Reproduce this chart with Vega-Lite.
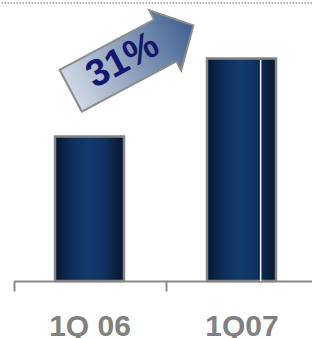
{
  "$schema": "https://vega.github.io/schema/vega-lite/v6.json",
  "width": 312,
  "height": 278,
  "autosize": {"type": "none"},
  "padding": {"left": 0, "right": 0, "top": 3, "bottom": 57},
  "config": {"view": {"stroke": null}},
  "layer": [
    {
      "data": {"values": [{"quarter": "1Q 06", "value": 52}, {"quarter": "1Q07", "value": 80}]},
      "mark": {
        "type": "bar",
        "width": {"band": 0.454},
        "stroke": "#858585",
        "strokeWidth": 2.5,
        "fill": {
          "gradient": "linear", "x1": 0, "y1": 0, "x2": 1, "y2": 0,
          "stops": [
            {"offset": 0, "color": "#05142b"},
            {"offset": 0.12, "color": "#0b2447"},
            {"offset": 0.3, "color": "#0f3260"},
            {"offset": 0.5, "color": "#123a6c"},
            {"offset": 0.7, "color": "#0f3262"},
            {"offset": 0.88, "color": "#0a2140"},
            {"offset": 1, "color": "#06152c"}
          ]
        }
      },
      "encoding": {
        "x": {
          "field": "quarter", "type": "nominal", "sort": null,
          "scale": {"range": [13.5, 317.5], "paddingInner": 0, "paddingOuter": 0},
          "axis": {
            "title": null, "domainColor": "#8a8a8a", "domainWidth": 2,
            "tickColor": "#8a8a8a", "tickWidth": 2, "tickSize": 10, "tickBand": "extent",
            "labelAngle": 0, "labelFont": "Liberation Sans", "labelFontWeight": "bold",
            "labelFontSize": 30, "labelColor": "#808080", "labelBaseline": "alphabetic",
            "labelPadding": 44
          }
        },
        "y": {"field": "value", "type": "quantitative", "scale": {"domain": [0, 100]}, "axis": null}
      }
    },
    {
      "data": {"values": [{"pos": 1.626, "top": 79.5}]},
      "mark": {"type": "rule", "color": "white", "strokeWidth": 1.5},
      "encoding": {
        "x": {"field": "pos", "type": "quantitative", "scale": {"domain": [0, 2], "range": [13.5, 317.5]}, "axis": null},
        "y": {"field": "top", "type": "quantitative"},
        "y2": {"datum": 0}
      }
    },
    {
      "data": {"values": [{"pos": 0.78, "level": 80.2}]},
      "mark": {
        "type": "point",
        "shape": "M-1,-0.34L0.54,-0.34L0.54,-0.49L1,0L0.54,0.49L0.54,0.34L-1,0.34Z",
        "size": 19321,
        "filled": true,
        "opacity": 1,
        "angle": 332,
        "stroke": "#8c8c8c",
        "strokeWidth": 2,
        "fill": {
          "gradient": "linear", "x1": 0, "y1": 0, "x2": 1, "y2": 0,
          "stops": [
            {"offset": 0, "color": "#d0d8e4"},
            {"offset": 1, "color": "#3f5f8f"}
          ]
        }
      },
      "encoding": {
        "x": {"field": "pos", "type": "quantitative", "scale": {"domain": [0, 2], "range": [13.5, 317.5]}, "axis": null},
        "y": {"field": "level", "type": "quantitative"}
      }
    },
    {
      "data": {"values": [{"pos": 0.72, "level": 79.2, "label": "31%"}]},
      "mark": {
        "type": "text", "font": "Liberation Sans", "fontWeight": "bold", "fontSize": 38,
        "color": "#15166e", "angle": 332, "align": "center", "baseline": "middle"
      },
      "encoding": {
        "x": {"field": "pos", "type": "quantitative", "scale": {"domain": [0, 2], "range": [13.5, 317.5]}, "axis": null},
        "y": {"field": "level", "type": "quantitative"},
        "text": {"field": "label"}
      }
    },
    {
      "data": {"values": [{"line": 100}]},
      "mark": {"type": "rule", "color": "#9a9a9a", "strokeDash": [1.5, 1.5], "strokeWidth": 1.5},
      "encoding": {"y": {"field": "line", "type": "quantitative"}}
    }
  ],
  "resolve": {"scale": {"x": "independent"}}
}
